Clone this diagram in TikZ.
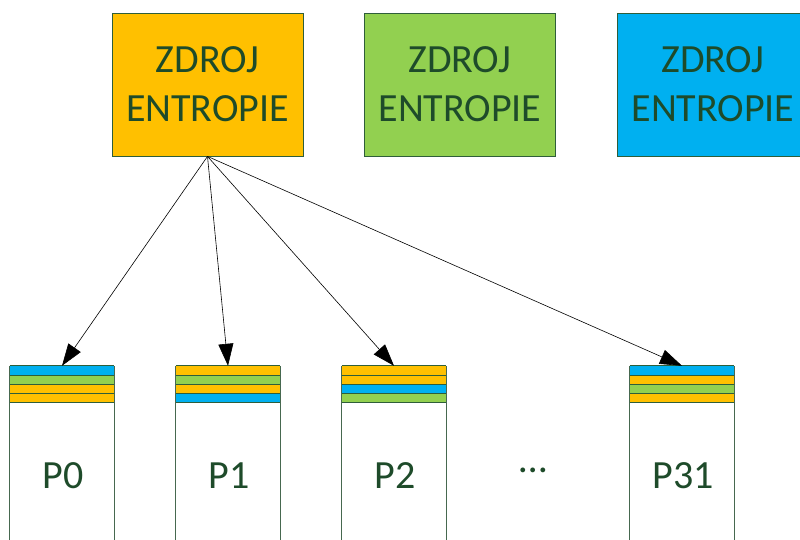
\documentclass[tikz,border=0pt]{standalone}
\usepackage{fontspec}
\setmainfont{Carlito}
\usetikzlibrary{arrows.meta,calc}
\definecolor{ttext}{HTML}{1E4B2A}
\definecolor{bord}{HTML}{2E5E3A}
\definecolor{cyel}{HTML}{FFC000}
\definecolor{cgrn}{HTML}{92D050}
\definecolor{cblu}{HTML}{00B0F0}
\newcommand\drawpool[7]{%
  % #1 name, #2 center x, #3 label, #4-#7 colours
  \node[pooltop] (#1) at (#2,384.5) {};
  \foreach \c [count=\i from 0] in {#4,#5,#6,#7} {
    \fill[\c] ($(#1.north west)+(0,9.25*\i)$) rectangle ++(104,9.25);
  }
  \foreach \i in {0,1,2,3,4} {
    \draw[stripe] ($(#1.north west)+(0,9.25*\i)$) -- ++(104,0);
  }
  \draw[side] (#1.north west) -- ($(#1.north west)+(0,180)$);
  \draw[side] (#1.north east) -- ($(#1.north east)+(0,180)$);
  \node[plabel] (#1l) at (#2+1,488) {#3};
}
\begin{document}
\begin{tikzpicture}[x=1pt,y=-1pt,
  srcbox/.style={draw=bord, line width=0.8pt, minimum width=191pt, minimum height=143pt, inner sep=0pt, align=center, text=ttext, font=\fontsize{40}{49}\selectfont},
  pooltop/.style={minimum width=104pt, minimum height=37pt, inner sep=0pt},
  plabel/.style={text=ttext, font=\fontsize{40}{46}\selectfont, inner sep=0pt, anchor=base},
  stripe/.style={draw=bord, line width=0.8pt},
  side/.style={draw=bord!70!gray, line width=0.8pt},
  conn/.style={draw=black, line width=0.6pt, -{Triangle[length=22pt,width=15pt]}}
]
\useasboundingbox (0,0) rectangle (800,540);

\node[srcbox, fill=cyel] (s1) at (207.5,84.5) {ZDROJ\\ENTROPIE};
\node[srcbox, fill=cgrn] (s2) at (460,84.5) {ZDROJ\\ENTROPIE};
\node[srcbox, fill=cblu] (s3) at (713,84.5) {ZDROJ\\ENTROPIE};

\drawpool{p0}{62}{P0}{cblu}{cgrn}{cyel}{cyel}
\drawpool{p1}{228}{P1}{cyel}{cgrn}{cyel}{cblu}
\drawpool{p2}{394}{P2}{cyel}{cyel}{cblu}{cgrn}
\drawpool{p31}{682}{P31}{cblu}{cyel}{cgrn}{cyel}

\node[text=ttext, font=\fontsize{40}{46}\selectfont, inner sep=0pt, anchor=base] (dots) at (533,472) {…};

\draw[conn] (s1.south) -- (p0.north);
\draw[conn] (s1.south) -- (p1.north);
\draw[conn] (s1.south) -- (p2.north);
\draw[conn] (s1.south) -- (p31.north);
\end{tikzpicture}
\end{document}
